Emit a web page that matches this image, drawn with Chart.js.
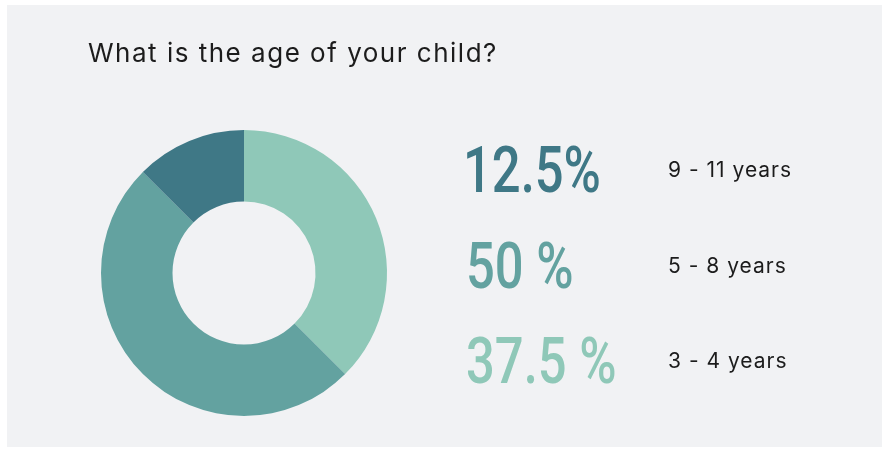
<!DOCTYPE html>
<html>
<head>
<meta charset="utf-8">
<script src="https://cdn.jsdelivr.net/npm/chart.js@4"></script>
<style>
  html, body { margin: 0; padding: 0; background: #ffffff; }
  #wrap { position: relative; width: 888px; height: 450px; }
</style>
</head>
<body>
<div id="wrap"><canvas id="ageChart"></canvas></div>
<script>
// chart values
const chartTitle = "What is the age of your child?";
const ageLabels = ["3 - 4 years", "5 - 8 years", "9 - 11 years"];
const shares = [37.5, 50, 12.5];
const shareLabels = ["37.5 %", "50 %", "12.5%"];
const sliceColors = ["#8fc8b8", "#63a2a0", "#3f7886"];

const panelBg = "#f1f2f4";
const textDark = "#1c1c1c";

// background panel + title + the big percentage list on the right
const sidePanel = {
    id: "sidePanel",
    beforeDraw(chart) {
        const ctx = chart.ctx;
        ctx.save();
        ctx.fillStyle = panelBg;
        ctx.fillRect(7, 5, 875, 442);
        ctx.restore();
    },
    afterDraw(chart) {
        const ctx = chart.ctx;
        ctx.save();
        ctx.fillStyle = textDark;
        ctx.textBaseline = "alphabetic";
        ctx.letterSpacing = "1.5px";
        ctx.font = "400 26px Inter";
        ctx.fillText(chartTitle, 88, 62);

        // rows go from the smallest slice (top) to the first one (bottom)
        const rowBase = [192, 288, 383];
        const order = [2, 1, 0];
        for (let r = 0; r < order.length; r++) {
            const i = order[r];
            const y = rowBase[r];
            ctx.save();
            ctx.letterSpacing = "0px";
            ctx.translate(r === 0 ? 463 : 466, y);
            ctx.scale(0.78, 1);
            ctx.font = "500 65px Roboto";
            ctx.fillStyle = sliceColors[i];
            ctx.fillText(shareLabels[i], 0, 0);
            ctx.restore();

            ctx.letterSpacing = "1px";
            ctx.font = "400 21px Inter";
            ctx.fillStyle = textDark;
            ctx.fillText(ageLabels[i], 668, y - 15);
        }
        ctx.restore();
    }
};

new Chart(document.getElementById("ageChart"), {
    type: "doughnut",
    data: {
        labels: ageLabels,
        datasets: [{
            data: shares,
            backgroundColor: sliceColors,
            borderWidth: 0,
            hoverOffset: 0
        }]
    },
    options: {
        responsive: true,
        maintainAspectRatio: false,
        animation: false,
        cutout: "50%",
        layout: { padding: { left: 101, right: 501, top: 130, bottom: 34 } },
        plugins: {
            legend: { display: false },
            title: { display: false },
            tooltip: { enabled: false }
        }
    },
    plugins: [sidePanel]
});
</script>
</body>
</html>
